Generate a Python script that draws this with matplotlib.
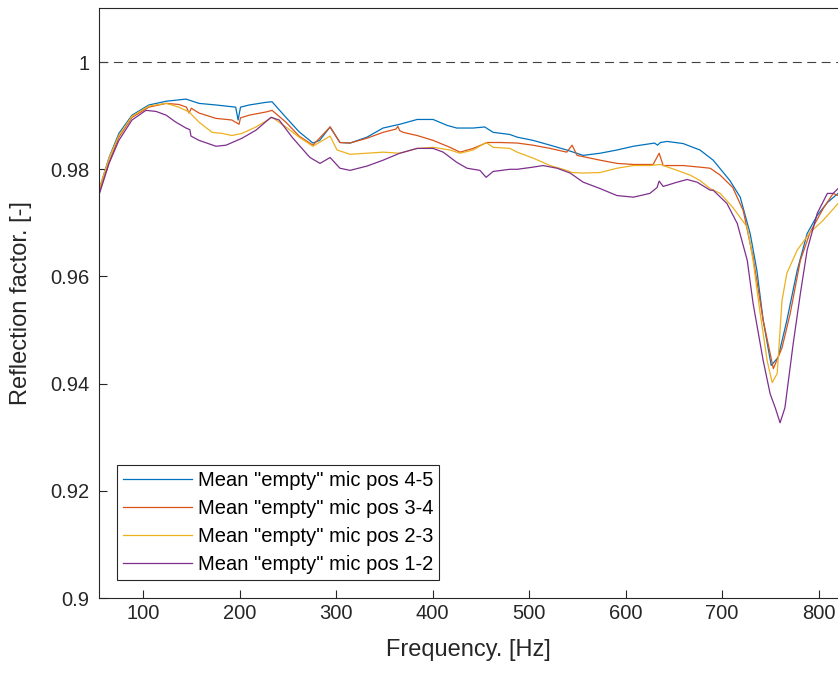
import numpy as np
import matplotlib
matplotlib.use("Agg")
import matplotlib.pyplot as plt

plt.rcParams['font.family'] = ['Liberation Sans', 'DejaVu Sans']

# mic pos 4-5
f_45 = [54.4, 64.8, 75, 88.6, 106, 124, 144.5, 158, 175.6, 196, 198.5, 201, 210, 227.5, 233.7,
        248, 261.7, 276, 283, 293.8, 304, 314.5, 332, 348.7, 366, 384, 400.5, 415, 425, 442,
        454, 462.7, 480, 487.6, 504, 521.8, 539, 556, 573.6, 591, 608, 630, 633, 636, 643,
        659.6, 677, 690.7, 708, 718.7, 729, 736, 742.5, 750.8, 758, 767, 777.7, 788, 798.5,
        809, 820]
r_45 = [0.9761, 0.9822, 0.9867, 0.9901, 0.9920, 0.9927, 0.9931, 0.9923, 0.9920, 0.9916, 0.9892, 0.9916,
        0.9920, 0.9925, 0.9926, 0.9897, 0.9870, 0.9849, 0.9854, 0.9879, 0.9850, 0.9849, 0.9860, 0.9877,
        0.9884, 0.9893, 0.9893, 0.9882, 0.9877, 0.9877, 0.9879, 0.9869, 0.9865, 0.9860, 0.9854, 0.9845,
        0.9836, 0.9826, 0.9830, 0.9836, 0.9843, 0.9849, 0.9845, 0.9850, 0.9852, 0.9848, 0.9836, 0.9817,
        0.9779, 0.9748, 0.9680, 0.9611, 0.9518, 0.9434, 0.9449, 0.9518, 0.9611, 0.9680, 0.9714, 0.9738,
        0.9755]

# mic pos 3-4
f_34 = [54.4, 64.8, 75, 88.6, 106, 124, 137, 145, 147.7, 150, 158, 175.6, 192, 199.5, 201, 210,
        227.5, 233.7, 248, 261.7, 276, 293.8, 304, 314.5, 332, 348.7, 362, 364, 366, 369.4, 384,
        400.5, 418, 428.5, 442, 456.5, 470, 487.6, 504, 521.8, 539, 544.5, 549.7, 573.6, 591,
        608, 628.5, 634.7, 638.9, 659.6, 677, 687.6, 698, 711, 721.8, 732, 742.5, 753, 762,
        770.5, 781, 791, 804.7, 815, 820]
r_34 = [0.9755, 0.9813, 0.9860, 0.9897, 0.9916, 0.9923, 0.9921, 0.9916, 0.9905, 0.9914, 0.9905, 0.9895,
        0.9892, 0.9884, 0.9896, 0.9901, 0.9907, 0.9910, 0.9888, 0.9862, 0.9845, 0.9879, 0.9850, 0.9849,
        0.9858, 0.9869, 0.9875, 0.9880, 0.9872, 0.9869, 0.9863, 0.9854, 0.9841, 0.9832, 0.9839, 0.9850,
        0.9850, 0.9849, 0.9845, 0.9839, 0.9832, 0.9845, 0.9826, 0.9817, 0.9811, 0.9809, 0.9809, 0.9830,
        0.9807, 0.9807, 0.9804, 0.9802, 0.9789, 0.9766, 0.9723, 0.9636, 0.9518, 0.9428, 0.9467, 0.9531,
        0.9630, 0.9682, 0.9727, 0.9755, 0.9751]

# mic pos 2-3
f_23 = [54.4, 64.8, 75, 88.6, 106, 124, 137, 147.7, 158, 171.5, 182, 192, 202.6, 217, 233.7,
        248, 261.7, 276, 293.8, 301, 314.5, 332, 348.7, 366, 384, 400.5, 418, 428.5, 442, 455.5,
        462.7, 480, 487.6, 504, 521.8, 539, 544.5, 556, 573.6, 591, 608, 625, 635.8, 653.4, 667,
        677, 687.6, 698, 711, 718.7, 726, 732, 739, 746.6, 751.8, 757, 762, 767, 777.7, 791,
        804.7, 820]
r_23 = [0.9762, 0.9821, 0.9863, 0.9899, 0.9918, 0.9923, 0.9916, 0.9907, 0.9888, 0.9869, 0.9867, 0.9863,
        0.9867, 0.9879, 0.9897, 0.9879, 0.9860, 0.9843, 0.9862, 0.9836, 0.9828, 0.9830, 0.9832, 0.9830,
        0.9839, 0.9841, 0.9836, 0.9830, 0.9836, 0.9850, 0.9841, 0.9839, 0.9832, 0.9821, 0.9807, 0.9798,
        0.9794, 0.9793, 0.9794, 0.9802, 0.9807, 0.9807, 0.9809, 0.9798, 0.9789, 0.9779, 0.9764, 0.9755,
        0.9729, 0.9710, 0.9692, 0.9630, 0.9536, 0.9443, 0.9402, 0.9419, 0.9555, 0.9606, 0.9649, 0.9682,
        0.9705, 0.9736]

# mic pos 1-2
f_12 = [54.4, 64.8, 75, 88.6, 103, 113.5, 124, 134, 144.5, 148.5, 149.7, 158, 175.6, 186, 202.6,
        217, 232.6, 241, 254.4, 269, 273, 283.4, 293.8, 304, 314.5, 332, 348.7, 366, 384, 400.5,
        411, 425, 435.7, 449, 455.5, 462.7, 480, 487.6, 504, 514.5, 529, 542.5, 556, 573.6, 591,
        608, 625, 632.6, 634.7, 638.9, 653.4, 663.7, 674, 687.6, 690.7, 705, 715.6, 726, 732,
        742.5, 749.7, 755, 760, 765, 773.6, 781, 788, 798.5, 809, 815, 820]
r_12 = [0.9752, 0.9811, 0.9854, 0.9892, 0.9910, 0.9908, 0.9901, 0.9888, 0.9877, 0.9874, 0.9862, 0.9854,
        0.9843, 0.9845, 0.9858, 0.9873, 0.9897, 0.9892, 0.9860, 0.9830, 0.9822, 0.9811, 0.9822, 0.9802,
        0.9798, 0.9806, 0.9817, 0.9830, 0.9839, 0.9839, 0.9832, 0.9813, 0.9802, 0.9798, 0.9785, 0.9796,
        0.9800, 0.9800, 0.9804, 0.9807, 0.9802, 0.9793, 0.9776, 0.9764, 0.9751, 0.9748, 0.9755, 0.9766,
        0.9778, 0.9768, 0.9776, 0.9781, 0.9776, 0.9761, 0.9761, 0.9736, 0.9699, 0.9630, 0.9550, 0.9443,
        0.9381, 0.9355, 0.9327, 0.9355, 0.9475, 0.9568, 0.9649, 0.9718, 0.9755, 0.9755, 0.9764]

labels = ['Mean "empty" mic pos 4-5', 'Mean "empty" mic pos 3-4',
          'Mean "empty" mic pos 2-3', 'Mean "empty" mic pos 1-2']
colors = ['#0072BD', '#D95319', '#EDB120', '#7E2F8E']

fig = plt.figure(figsize=(8.38, 6.73), dpi=100)
ax = fig.add_axes([99/838, 75/673, 739/838, 590/673])

for f, r, c, lab in zip([f_45, f_34, f_23, f_12], [r_45, r_34, r_23, r_12], colors, labels):
    ax.plot(f, r, color=c, lw=0.9, label=lab)

ax.axhline(1.0, color='#404040', lw=0.8, ls=(0, (8, 5)))

ax.set_xlim(54.4, 820)
ax.set_ylim(0.9, 1.0101)
ax.set_xticks(np.arange(100, 801, 100))
ax.set_yticks([0.9, 0.92, 0.94, 0.96, 0.98, 1.0])
ax.set_yticklabels(['0.9', '0.92', '0.94', '0.96', '0.98', '1'])
ax.tick_params(direction='in', length=6, width=0.8, colors='#262626', labelsize=14.5)
ax.tick_params(axis='x', pad=4)
ax.tick_params(axis='y', pad=7)
ax.spines['right'].set_visible(False)
for s in ['left', 'bottom', 'top']:
    ax.spines[s].set_color('#262626')
    ax.spines[s].set_linewidth(0.8)

ax.set_xlabel('Frequency. [Hz]', fontsize=17, color='#262626', labelpad=12)
ax.set_ylabel('Reflection factor. [-]', fontsize=17, color='#262626', labelpad=13)

leg = ax.legend(loc='lower left', bbox_to_anchor=(0.0245, 0.03), fontsize=14.5,
                fancybox=False, framealpha=1, edgecolor='#262626', handlelength=3.4,
                borderpad=0.3, labelspacing=0.45, handletextpad=0.3, borderaxespad=0)
leg.get_frame().set_linewidth(0.8)

fig.savefig('out.png', dpi=100)
